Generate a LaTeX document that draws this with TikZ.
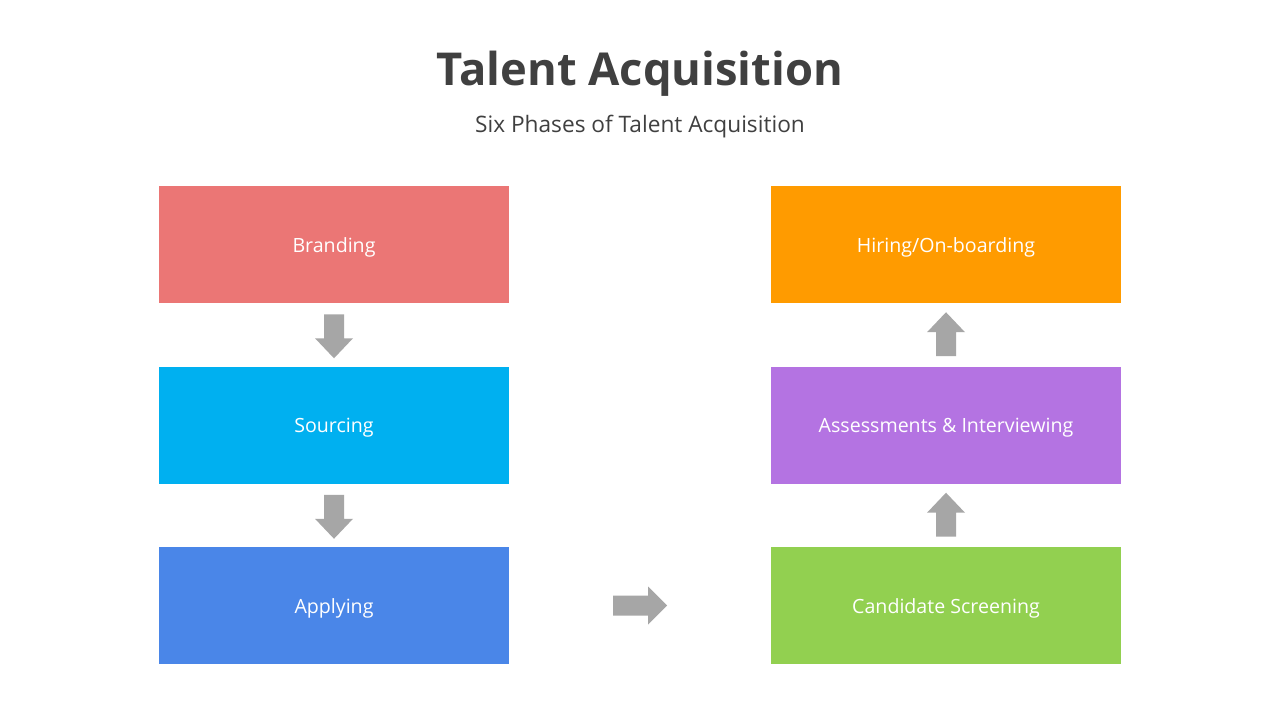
\documentclass[tikz,border=0pt]{standalone}
\usepackage{fontspec}
\setmainfont{Open Sans}
\usetikzlibrary{calc}
\definecolor{cTitle}{HTML}{404040}
\definecolor{cBrand}{HTML}{EB7675}
\definecolor{cSource}{HTML}{00B0F0}
\definecolor{cApply}{HTML}{4A86E8}
\definecolor{cHire}{HTML}{FF9B00}
\definecolor{cAssess}{HTML}{B473E2}
\definecolor{cScreen}{HTML}{92D050}
\definecolor{cArrow}{HTML}{A6A6A6}
\tikzset{
  phase/.style={rectangle, draw=none, minimum width=262.5pt, minimum height=87.75pt,
    text=white, font=\fontsize{14.7}{17}\selectfont, inner sep=0pt,
    text height=14pt, text depth=2.5pt},
  darr/.pic={\fill[cArrow] (-10,0)--(10,0)--(10,24)--(19,24)--(0,44)--(-19,24)--(-10,24)--cycle;},
  uarr/.pic={\fill[cArrow] (-10,0)--(10,0)--(10,-24)--(19,-24)--(0,-44)--(-19,-24)--(-10,-24)--cycle;},
  rarr/.pic={\fill[cArrow] (-27,-10)--(8,-10)--(8,-19)--(27,0)--(8,19)--(8,10)--(-27,10)--cycle;},
}
\begin{document}
\begin{tikzpicture}[x=0.75pt,y=-0.75pt]
\useasboundingbox (0,0) rectangle (1280,720);
\fill[white] (0,0) rectangle (1280,720);
\node[text=cTitle, font=\fontsize{34}{40}\selectfont\bfseries] (title) at (640,74) {Talent Acquisition};
\node[text=cTitle, font=\fontsize{17}{20}\selectfont] (subtitle) at (640,127) {Six Phases of Talent Acquisition};
\node[phase, fill=cBrand] (brand) at (334,244.5) {Branding};
\node[phase, fill=cSource] (source) at (334,425) {Sourcing};
\node[phase, fill=cApply] (apply) at (334,605.5) {Applying};
\node[phase, fill=cHire] (hire) at (946,244.5) {Hiring/On-boarding};
\node[phase, fill=cAssess] (assess) at (946,425) {Assessments \& Interviewing};
\node[phase, fill=cScreen] (screen) at (946,605.5) {Candidate Screening};
\path ($(brand.south)+(0,11)$) pic {darr};
\path ($(source.south)+(0,11)$) pic {darr};
\path ($(apply.east)!0.5!(screen.west)$) pic {rarr};
\path ($(screen.north)+(0,-10)$) pic {uarr};
\path ($(assess.north)+(0,-10)$) pic {uarr};
\end{tikzpicture}
\end{document}
